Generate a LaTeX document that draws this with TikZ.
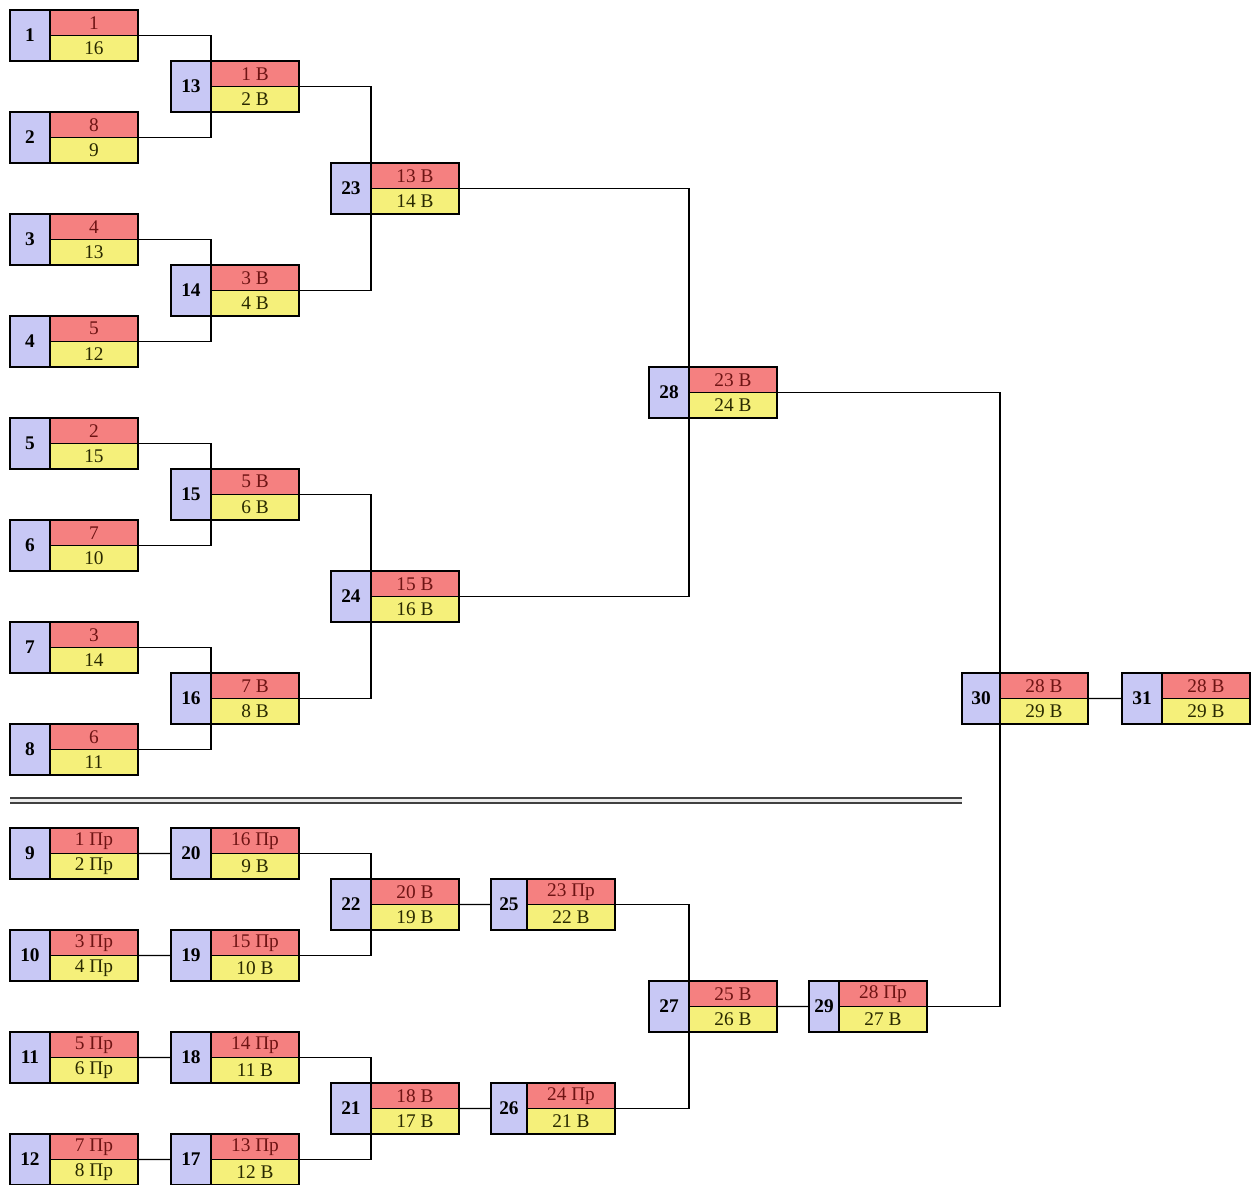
\documentclass[tikz,border=0pt]{standalone}
\usepackage{fontspec}
\setmainfont{Liberation Serif}
\usetikzlibrary{positioning}

\definecolor{gameblue}{RGB}{200,200,245}
\definecolor{gamered}{RGB}{245,128,128}
\definecolor{gameyellow}{RGB}{245,240,122}
\definecolor{redtext}{RGB}{110,20,20}
\definecolor{yellowtext}{RGB}{40,40,0}

% one game: number box, upper and lower team box
\newcommand\bracketgame[6][0.8cm]{%
	\node [numbox, minimum width=#1] (b#2) at (#3,#4) {#2};
	\node [topbox, anchor=north west] (t#2) at (b#2.north east) {#5};
	\node [botbox, below=0pt of t#2] (u#2) {#6};
}

\begin{document}
\begin{tikzpicture}[x=0.02cm, y=-0.02cm,
		line width=0.6pt,
		numbox/.style={draw, line width=0.8pt, fill=gameblue, anchor=north west, minimum height=1.02cm,
			inner sep=0pt, outer sep=0pt, font=\fontsize{11}{12}\selectfont\bfseries},
		teambox/.style={draw, line width=0.8pt, minimum width=1.76cm, minimum height=0.51cm,
			inner sep=0pt, outer sep=0pt, font=\fontsize{11}{12}\selectfont},
		topbox/.style={teambox, fill=gamered, text=redtext},
		botbox/.style={teambox, fill=gameyellow, text=yellowtext},
		link/.style={draw, line width=0.6pt}
		]
	\useasboundingbox (0,0) rectangle (1259,1185);

	% upper bracket
	\bracketgame{1}{10}{10}{1}{16}
	\bracketgame{2}{10}{112}{8}{9}
	\bracketgame{3}{10}{214}{4}{13}
	\bracketgame{4}{10}{316}{5}{12}
	\bracketgame{5}{10}{418}{2}{15}
	\bracketgame{6}{10}{520}{7}{10}
	\bracketgame{7}{10}{622}{3}{14}
	\bracketgame{8}{10}{724}{6}{11}

	\bracketgame{13}{171}{61}{1 В}{2 В}
	\bracketgame{14}{171}{265}{3 В}{4 В}
	\bracketgame{15}{171}{469}{5 В}{6 В}
	\bracketgame{16}{171}{673}{7 В}{8 В}

	\bracketgame{23}{331}{163}{13 В}{14 В}
	\bracketgame{24}{331}{571}{15 В}{16 В}

	\bracketgame{28}{649}{367}{23 В}{24 В}

	\bracketgame[0.76cm]{30}{962}{673}{28 В}{29 В}
	\bracketgame{31}{1122}{673}{28 В}{29 В}

	% lower bracket
	\bracketgame{9}{10}{828}{1 Пр}{2 Пр}
	\bracketgame{10}{10}{930}{3 Пр}{4 Пр}
	\bracketgame{11}{10}{1032}{5 Пр}{6 Пр}
	\bracketgame{12}{10}{1134}{7 Пр}{8 Пр}

	\bracketgame{20}{171}{828}{16 Пр}{9 В}
	\bracketgame{19}{171}{930}{15 Пр}{10 В}
	\bracketgame{18}{171}{1032}{14 Пр}{11 В}
	\bracketgame{17}{171}{1134}{13 Пр}{12 В}

	\bracketgame{22}{331}{879}{20 В}{19 В}
	\bracketgame{21}{331}{1083}{18 В}{17 В}

	\bracketgame[0.72cm]{25}{491}{879}{23 Пр}{22 В}
	\bracketgame[0.72cm]{26}{491}{1083}{24 Пр}{21 В}

	\bracketgame{27}{649}{981}{25 В}{26 В}

	\bracketgame[0.6cm]{29}{809}{981}{28 Пр}{27 В}

	% separator
	\draw [double=gray!15, double distance=1.3pt, line width=1.1pt, gray!50!black] (10,800.5) -- (962,800.5);

	% upper links
	\draw [link] (t1.south east) -| (b13.east) |- (t2.south east);
	\draw [link] (t3.south east) -| (b14.east) |- (t4.south east);
	\draw [link] (t5.south east) -| (b15.east) |- (t6.south east);
	\draw [link] (t7.south east) -| (b16.east) |- (t8.south east);
	\draw [link] (t13.south east) -| (b23.east) |- (t14.south east);
	\draw [link] (t15.south east) -| (b24.east) |- (t16.south east);
	\draw [link] (t23.south east) -| (b28.east) |- (t24.south east);
	\draw [link] (t28.south east) -| (b30.east) |- (t29.south east);
	\draw [link] (t30.south east) -- (b31.west);

	% lower links
	\draw [link] (t9.south east) -- (b20.west);
	\draw [link] (t10.south east) -- (b19.west);
	\draw [link] (t11.south east) -- (b18.west);
	\draw [link] (t12.south east) -- (b17.west);
	\draw [link] (t20.south east) -| (b22.east) |- (t19.south east);
	\draw [link] (t18.south east) -| (b21.east) |- (t17.south east);
	\draw [link] (t22.south east) -- (b25.west);
	\draw [link] (t21.south east) -- (b26.west);
	\draw [link] (t25.south east) -| (b27.east) |- (t26.south east);
	\draw [link] (t27.south east) -- (b29.west);
\end{tikzpicture}
\end{document}
